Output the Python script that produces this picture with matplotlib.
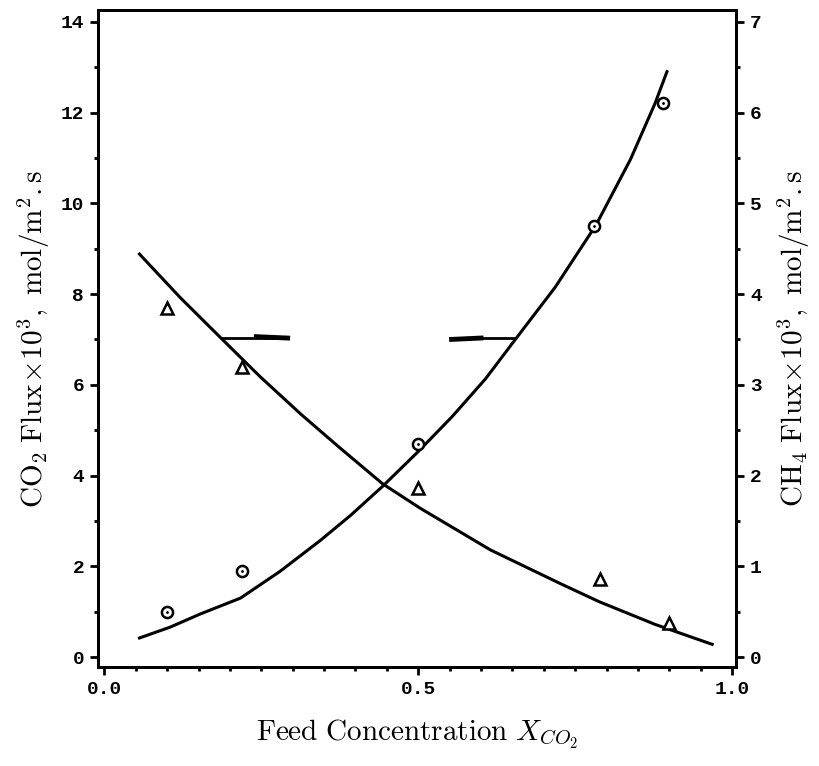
import matplotlib
matplotlib.use("Agg")
import matplotlib.pyplot as plt
from matplotlib.ticker import MultipleLocator, FormatStrFormatter

plt.rcParams['mathtext.fontset'] = 'cm'

# measured points
x_co2 = [0.10, 0.22, 0.50, 0.78, 0.89]
y_co2 = [1.0, 1.9, 4.7, 9.5, 12.2]
x_ch4 = [0.10, 0.22, 0.50, 0.79, 0.90]
y_ch4 = [3.85, 3.2, 1.86, 0.86, 0.37]

# model curves
cx_co2 = [0.056, 0.105, 0.153, 0.217, 0.280, 0.344, 0.392, 0.443, 0.500,
          0.554, 0.607, 0.654, 0.718, 0.783, 0.838, 0.877, 0.896]
cy_co2 = [0.42, 0.66, 0.95, 1.30, 1.89, 2.57, 3.12, 3.76, 4.53,
          5.30, 6.13, 6.99, 8.15, 9.52, 10.97, 12.20, 12.90]
cx_ch4 = [0.056, 0.121, 0.185, 0.248, 0.314, 0.376, 0.443, 0.503, 0.615,
          0.726, 0.788, 0.877, 0.968]
cy_ch4 = [4.44, 3.96, 3.52, 3.09, 2.67, 2.30, 1.91, 1.64, 1.18,
          0.81, 0.61, 0.36, 0.14]

fig = plt.figure(figsize=(8.19, 7.66), dpi=100)
ax = fig.add_axes([0.1197, 0.1292, 0.779, 0.8578])
ax2 = ax.twinx()

ax.plot(cx_co2, cy_co2, color='black', lw=2.2)
ax.plot(x_co2, y_co2, 'o', mfc='white', mec='black', ms=8, mew=1.8)
ax.plot(x_co2, y_co2, '.', color='black', ms=2)

ax2.plot(cx_ch4, cy_ch4, color='black', lw=2.2)
ax2.plot(x_ch4, y_ch4, '^', mfc='white', mec='black', ms=8, mew=1.8)

# axis pointers
ax.plot([0.187, 0.292], [7.03, 7.03], color='black', lw=2)
ax.plot([0.242, 0.292], [7.06, 7.03], color='black', lw=3.5)
ax.plot([0.553, 0.654], [7.03, 7.03], color='black', lw=2)
ax.plot([0.553, 0.60], [7.0, 7.03], color='black', lw=3.5)

ax.set_xlim(-0.01, 1.006)
ax.set_ylim(-0.22, 14.26)
ax2.set_ylim(-0.11, 7.13)

ax.xaxis.set_major_locator(MultipleLocator(0.5))
ax.xaxis.set_minor_locator(MultipleLocator(0.05))
ax.xaxis.set_major_formatter(FormatStrFormatter('%.1f'))
ax.yaxis.set_major_locator(MultipleLocator(2))
ax.yaxis.set_minor_locator(MultipleLocator(1))
ax2.yaxis.set_major_locator(MultipleLocator(1))
ax2.yaxis.set_minor_locator(MultipleLocator(0.5))

for a in (ax, ax2):
    for s in a.spines.values():
        s.set_linewidth(2)
    a.tick_params(which='major', length=6, width=2, direction='out', pad=4)
    a.tick_params(which='minor', length=3, width=2, direction='out')
    for lab in a.get_xticklabels() + a.get_yticklabels():
        lab.set_fontfamily('Liberation Mono')
        lab.set_fontweight('bold')
        lab.set_fontsize(14)

ax.set_xlabel(r'$\mathrm{Feed\ Concentration}\ X_{CO_2}$', fontsize=21, labelpad=14)
ax.set_ylabel(r'$\mathrm{CO_2\ Flux\!\times\!10^3,\ mol/m^2.s}$', fontsize=21, labelpad=6)
ax2.set_ylabel(r'$\mathrm{CH_4\ Flux\!\times\!10^3,\ mol/m^2.s}$', fontsize=21, labelpad=10)

fig.savefig('out.png', dpi=100)
